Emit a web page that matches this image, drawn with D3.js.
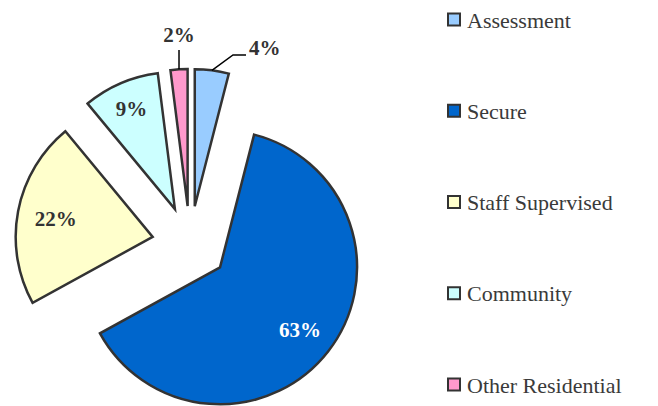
<!DOCTYPE html>
<html>
<head>
<meta charset="utf-8">
<script src="https://cdn.jsdelivr.net/npm/d3@7"></script>
<style>
  body { margin: 0; background: #fff; }
  svg { display: block; }
  text { font-family: "Times New Roman", Tinos, "Liberation Serif", "DejaVu Serif", "Noto Serif", Georgia, Times, serif; }
</style>
</head>
<body>
<div id="chart"></div>
<script>
var categories = ["Assessment", "Secure", "Staff Supervised", "Community", "Other Residential"];
var values = [4, 63, 22, 9, 2];
var colors = ["#99CCFF", "#0066CC", "#FFFFCC", "#CCFFFF", "#FF99CC"];

var width = 658, height = 406;
var cx = 190, cy = 244, radius = 137, explode = 38;

// where each slice's label sits (fraction of radius) - outside ones get leader lines
var labelFrac = [null, 0.74, 0.72, 0.80, null];

var svg = d3.select("#chart")
  .append("svg")
  .attr("width", width)
  .attr("height", height);

var pie = d3.pie().sort(null).value(function(d) { return d; });
var arcs = pie(values);

var arc = d3.arc().innerRadius(0).outerRadius(radius);

function offset(a, dist) {
  var m = (a.startAngle + a.endAngle) / 2;
  return [Math.sin(m) * dist, -Math.cos(m) * dist];
}

var g = svg.append("g").attr("transform", "translate(" + cx + "," + cy + ")");

var slice = g.selectAll(".slice")
  .data(arcs)
  .enter()
  .append("g")
  .attr("class", "slice")
  .attr("transform", function(d) {
    var o = offset(d, explode);
    return "translate(" + o[0] + "," + o[1] + ")";
  });

slice.append("path")
  .attr("d", arc)
  .attr("fill", function(d, i) { return colors[i]; })
  .attr("stroke", "#333")
  .attr("stroke-width", 2.5)
  .attr("stroke-linejoin", "miter");

// inside labels
slice.filter(function(d, i) { return labelFrac[i] != null; })
  .append("text")
  .attr("x", function(d) { return offset(d, labelFrac[d.index] * radius)[0]; })
  .attr("y", function(d) { return offset(d, labelFrac[d.index] * radius)[1]; })
  .attr("dy", "0.35em")
  .attr("text-anchor", "middle")
  .attr("font-weight", "bold")
  .attr("font-size", 21)
  .attr("fill", function(d) { return d.index === 1 ? "#fff" : "#333"; })
  .text(function(d) { return d.data + "%"; });

// outside labels with leader lines
var ax = cx + offset(arcs[0], explode)[0], ay = cy + offset(arcs[0], explode)[1];
var p0 = offset(arcs[0], radius);
svg.append("polyline")
  .attr("points", [[ax + p0[0], ay + p0[1]], [233, 55], [246, 55]].map(function(p) { return p.join(","); }).join(" "))
  .attr("fill", "none")
  .attr("stroke", "#000")
  .attr("stroke-width", 1.5);
svg.append("text")
  .attr("x", 249).attr("y", 48).attr("dy", "0.35em")
  .attr("font-weight", "bold").attr("font-size", 21)
  .attr("fill", "#333")
  .text(values[0] + "%");

var ox = cx + offset(arcs[4], explode)[0], oy = cy + offset(arcs[4], explode)[1];
var p4 = offset(arcs[4], radius);
svg.append("line")
  .attr("x1", ox + p4[0]).attr("y1", oy + p4[1])
  .attr("x2", ox + p4[0]).attr("y2", 50)
  .attr("stroke", "#000")
  .attr("stroke-width", 1.5);
svg.append("text")
  .attr("x", ox + p4[0]).attr("y", 35).attr("dy", "0.35em")
  .attr("text-anchor", "middle")
  .attr("font-weight", "bold").attr("font-size", 21)
  .attr("fill", "#333")
  .text(values[4] + "%");

// legend
var legend = svg.selectAll(".legend")
  .data(categories)
  .enter()
  .append("g")
  .attr("class", "legend")
  .attr("transform", function(d, i) { return "translate(448," + (20 + i * 91.25) + ")"; });

legend.append("rect")
  .attr("x", 0).attr("y", -6.5)
  .attr("width", 12).attr("height", 12)
  .attr("fill", function(d, i) { return colors[i]; })
  .attr("stroke", "#333")
  .attr("stroke-width", 2);

legend.append("text")
  .attr("x", 19).attr("y", 0).attr("dy", "0.35em")
  .attr("font-size", 22)
  .attr("fill", "#3a3a3a")
  .text(function(d) { return d; });
</script>
</body>
</html>
